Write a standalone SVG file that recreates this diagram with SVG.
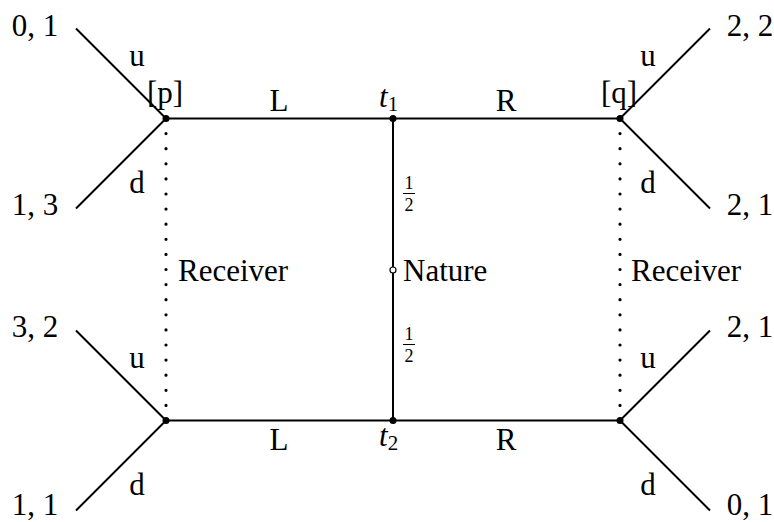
<svg xmlns="http://www.w3.org/2000/svg" width="774" height="522" viewBox="0 0 774 522">
<style>
text{font-family:"Liberation Serif","DejaVu Serif",serif;font-size:31px;fill:#000}
.m{text-anchor:middle}
.fr{font-size:18px;text-anchor:middle}
.ln{stroke:#000;stroke-width:2;fill:none}
.dot{stroke:#000;stroke-width:3.2;stroke-linecap:round;stroke-dasharray:0 15.1;fill:none}
.bar{stroke:#000;stroke-width:1}
</style>
<rect width="774" height="522" fill="#fff"/>
<g id="connectors">
<line class="ln" x1="166" y1="118.5" x2="620" y2="118.5"/>
<line class="ln" x1="166" y1="420.5" x2="620" y2="420.5"/>
<line class="ln" x1="393" y1="118.5" x2="393" y2="420.5"/>
<line class="ln" x1="166" y1="118.5" x2="76" y2="28.5"/>
<line class="ln" x1="166" y1="118.5" x2="76" y2="208.5"/>
<line class="ln" x1="166" y1="420.5" x2="76" y2="330.5"/>
<line class="ln" x1="166" y1="420.5" x2="76" y2="510.5"/>
<line class="ln" x1="620" y1="118.5" x2="710" y2="28.5"/>
<line class="ln" x1="620" y1="118.5" x2="710" y2="208.5"/>
<line class="ln" x1="620" y1="420.5" x2="710" y2="330.5"/>
<line class="ln" x1="620" y1="420.5" x2="710" y2="510.5"/>
<line class="dot" x1="166" y1="118.5" x2="166" y2="420.5"/>
<line class="dot" x1="620" y1="118.5" x2="620" y2="420.5"/>
<text class="m" x="137" y="66">u</text>
<text class="m" x="137" y="193">d</text>
<text class="m" x="137" y="368">u</text>
<text class="m" x="137" y="495">d</text>
<text class="m" x="648" y="66">u</text>
<text class="m" x="648" y="193">d</text>
<text class="m" x="648" y="368">u</text>
<text class="m" x="648" y="495">d</text>
<text class="m" x="279" y="111">L</text>
<text class="m" x="506" y="111">R</text>
<text class="m" x="279" y="450">L</text>
<text class="m" x="506" y="450">R</text>
<text class="fr" x="409" y="189">1</text>
<line class="bar" x1="403" y1="193.5" x2="415" y2="193.5"/>
<text class="fr" x="409" y="211">2</text>
<text class="fr" x="409" y="340">1</text>
<line class="bar" x1="403" y1="344.5" x2="415" y2="344.5"/>
<text class="fr" x="409" y="362">2</text>
</g>
<g id="node-p">
<circle cx="166" cy="118.5" r="3.5"/>
<text class="m" x="165" y="103">[p]</text>
<text x="178" y="281">Receiver</text>
</g>
<g id="node-q">
<circle cx="620" cy="118.5" r="3.5"/>
<text class="m" x="619" y="103">[q]</text>
<text x="631" y="281">Receiver</text>
</g>
<g id="node-bl"><circle cx="166" cy="420.5" r="3.5"/></g>
<g id="node-br"><circle cx="620" cy="420.5" r="3.5"/></g>
<g id="node-t1">
<circle cx="393" cy="118.5" r="3.5"/>
<text x="379" y="107"><tspan font-style="italic">t</tspan><tspan font-size="21" dy="4">1</tspan></text>
</g>
<g id="node-t2">
<circle cx="393" cy="420.5" r="3.5"/>
<text x="379" y="446"><tspan font-style="italic">t</tspan><tspan font-size="21" dy="4">2</tspan></text>
</g>
<g id="node-nature">
<circle cx="393" cy="270" r="3" fill="#fff" stroke="#000" stroke-width="1.2"/>
<text x="403" y="281">Nature</text>
</g>
<g id="payoffs">
<text class="m" x="35" y="36">0, 1</text>
<text class="m" x="35" y="215">1, 3</text>
<text class="m" x="35" y="337">3, 2</text>
<text class="m" x="35" y="515">1, 1</text>
<text class="m" x="750" y="36">2, 2</text>
<text class="m" x="750" y="215">2, 1</text>
<text class="m" x="750" y="337">2, 1</text>
<text class="m" x="750" y="515">0, 1</text>
</g>
</svg>
